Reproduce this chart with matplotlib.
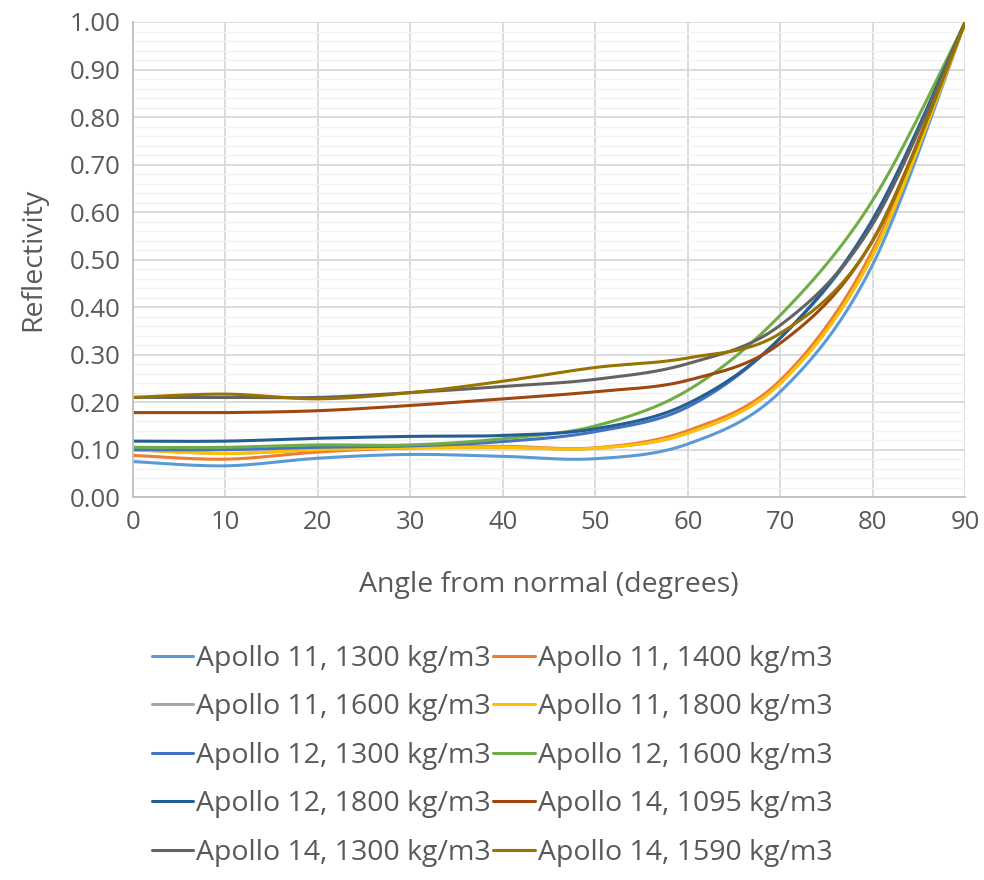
import numpy as np
import matplotlib
matplotlib.use("Agg")
import matplotlib.pyplot as plt
from matplotlib.ticker import MultipleLocator

plt.rcParams['font.family'] = ['Open Sans', 'DejaVu Sans']

angles = [0, 10, 20, 30, 40, 50, 60, 70, 80, 90]

labels = [
    "Apollo 11, 1300 kg/m3", "Apollo 11, 1400 kg/m3",
    "Apollo 11, 1600 kg/m3", "Apollo 11, 1800 kg/m3",
    "Apollo 12, 1300 kg/m3", "Apollo 12, 1600 kg/m3",
    "Apollo 12, 1800 kg/m3", "Apollo 14, 1095 kg/m3",
    "Apollo 14, 1300 kg/m3", "Apollo 14, 1590 kg/m3",
]

a11_1300 = [0.075, 0.066, 0.082, 0.090, 0.086, 0.081, 0.112, 0.222, 0.490, 1.00]
a11_1400 = [0.088, 0.080, 0.095, 0.104, 0.107, 0.104, 0.140, 0.246, 0.520, 1.00]
a11_1600 = [0.100, 0.092, 0.100, 0.104, 0.105, 0.103, 0.135, 0.240, 0.510, 1.00]
a11_1800 = [0.100, 0.092, 0.100, 0.104, 0.105, 0.103, 0.135, 0.240, 0.510, 1.00]
a12_1300 = [0.100, 0.100, 0.105, 0.108, 0.117, 0.138, 0.190, 0.335, 0.580, 1.00]
a12_1600 = [0.105, 0.105, 0.110, 0.110, 0.123, 0.150, 0.225, 0.383, 0.625, 1.00]
a12_1800 = [0.118, 0.118, 0.124, 0.128, 0.130, 0.144, 0.197, 0.335, 0.585, 1.00]
a14_1095 = [0.178, 0.178, 0.182, 0.193, 0.207, 0.222, 0.246, 0.324, 0.541, 1.00]
a14_1300 = [0.210, 0.210, 0.210, 0.220, 0.233, 0.248, 0.281, 0.362, 0.575, 1.00]
a14_1590 = [0.210, 0.217, 0.207, 0.220, 0.244, 0.273, 0.293, 0.345, 0.540, 1.00]

series = [a11_1300, a11_1400, a11_1600, a11_1800, a12_1300,
          a12_1600, a12_1800, a14_1095, a14_1300, a14_1590]
colors = ["#5B9BD5", "#ED7D31", "#A5A5A5", "#FFC000", "#4472C4",
          "#70AD47", "#255E91", "#9E480E", "#636363", "#997300"]


def smooth(x, y, n=30):
    """Excel-like smoothing (Catmull-Rom style Bezier between points)."""
    x = np.asarray(x, float)
    y = np.asarray(y, float)
    px = np.concatenate([[x[0]], x, [x[-1]]])
    py = np.concatenate([[y[0]], y, [y[-1]]])
    xs, ys = [], []
    t = np.linspace(0, 1, n)
    for i in range(1, len(px) - 2):
        p0 = np.array([px[i], py[i]])
        p3 = np.array([px[i + 1], py[i + 1]])
        p1 = p0 + (np.array([px[i + 1], py[i + 1]]) - np.array([px[i - 1], py[i - 1]])) / 6
        p2 = p3 - (np.array([px[i + 2], py[i + 2]]) - np.array([px[i], py[i]])) / 6
        b = ((1 - t) ** 3)[:, None] * p0 + (3 * (1 - t) ** 2 * t)[:, None] * p1 \
            + (3 * (1 - t) * t ** 2)[:, None] * p2 + (t ** 3)[:, None] * p3
        xs.extend(b[:, 0])
        ys.extend(b[:, 1])
    return np.array(xs), np.array(ys)


fig = plt.figure(figsize=(9.84, 8.8), dpi=100)
ax = fig.add_axes([0.135, 0.435, 0.846, 0.54])

handles = []
for s, c, lab in zip(series, colors, labels):
    sx, sy = smooth(angles, s)
    h, = ax.plot(sx, sy, color=c, lw=2.2, label=lab, solid_capstyle='round')
    handles.append(h)

ax.set_xlim(0, 90)
ax.set_ylim(0, 1.0)
ax.xaxis.set_major_locator(MultipleLocator(10))
ax.yaxis.set_major_locator(MultipleLocator(0.1))
ax.yaxis.set_minor_locator(MultipleLocator(0.02))
ax.yaxis.set_major_formatter(matplotlib.ticker.FormatStrFormatter('%.2f'))
ax.grid(True, which='major', color='#D9D9D9', lw=1.3)
ax.grid(True, which='minor', axis='y', color='#F2F2F2', lw=1.0)
ax.set_axisbelow(True)
for sp in ['top', 'right']:
    ax.spines[sp].set_visible(False)
for sp in ['left', 'bottom']:
    ax.spines[sp].set_color('#BFBFBF')
    ax.spines[sp].set_linewidth(1.3)
ax.tick_params(which='both', length=0, labelsize=18.5, colors='#595959', pad=9)
ax.set_ylabel("Reflectivity", fontsize=20.5, color='#595959', labelpad=16)
ax.set_xlabel("Angle from normal (degrees)", fontsize=20.5, color='#595959', labelpad=26)

order = [0, 2, 4, 6, 8, 1, 3, 5, 7, 9]
leg = fig.legend([handles[i] for i in order], [labels[i] for i in order],
                 ncol=2, loc='upper center', bbox_to_anchor=(0.5, 0.29),
                 frameon=False, fontsize=20.5, handlelength=1.45, handletextpad=0.1,
                 columnspacing=0.1, labelspacing=0.72, labelcolor='#595959',
                 borderpad=0.2)

fig.savefig("out.png", dpi=100)
